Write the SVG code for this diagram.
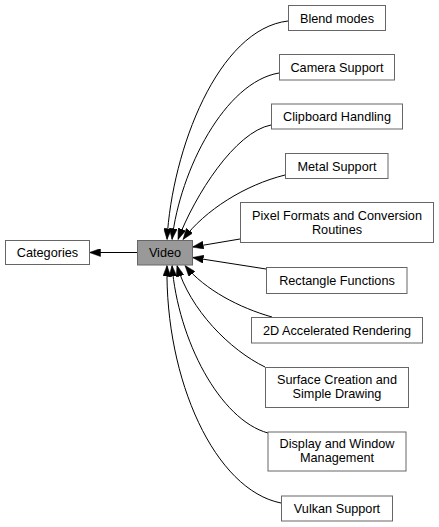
<svg xmlns="http://www.w3.org/2000/svg" width="439" height="527" viewBox="0 0 439 527">
<style>
.box{fill:#ffffff;stroke:#666666;stroke-width:1}
.cur{fill:#999999;stroke:#666666;stroke-width:1}
text{font-family:"Liberation Sans",Arial,Helvetica,sans-serif;font-size:12.7px;fill:#000000;text-anchor:middle}
.edge{fill:none;stroke:#000000;stroke-width:1;marker-end:url(#ah)}
</style>
<defs>
<marker id="ah" viewBox="0 0 11 8" refX="11" refY="4" markerWidth="11" markerHeight="8" markerUnits="userSpaceOnUse" orient="auto">
<path d="M0,0 L11,4 L0,8 z" fill="#000000" stroke="#000000" stroke-width="0.5"/>
</marker>
</defs>
<g id="edges">
<path class="edge" d="M137,252.5 L89.5,252.5"/>
<path class="edge" d="M288,21 C218,29 172,150 167,239.5"/>
<path class="edge" d="M279,73 C225,82 180,170 172,239.5"/>
<path class="edge" d="M271,125 C235,132 195,195 178,239.5"/>
<path class="edge" d="M285,175 C245,185 205,210 183,239.5"/>
<path class="edge" d="M240,239 L192.5,247"/>
<path class="edge" d="M266,269 L192.5,257.5"/>
<path class="edge" d="M272,317 C240,308 205,290 185,265.5"/>
<path class="edge" d="M265,367 C230,350 190,310 177,265.5"/>
<path class="edge" d="M268,433 C220,420 178,340 172,265.5"/>
<path class="edge" d="M281,503 C215,490 165,380 167,265.5"/>
</g>
<g id="categories"><rect class="box" x="5.5" y="240.5" width="84" height="24"/><text x="47.5" y="257">Categories</text></g>
<g id="video"><rect class="cur" x="137.5" y="240.5" width="55" height="24.5"/><text x="165" y="257">Video</text></g>
<g id="blend"><rect class="box" x="288.5" y="5.5" width="97" height="25"/><text x="337" y="22.5">Blend modes</text></g>
<g id="camera"><rect class="box" x="279.5" y="54.5" width="115" height="25.5"/><text x="337" y="71.5">Camera Support</text></g>
<g id="clipboard"><rect class="box" x="271.5" y="104" width="131" height="25"/><text x="337" y="121">Clipboard Handling</text></g>
<g id="metal"><rect class="box" x="285.5" y="153.5" width="102.5" height="25"/><text x="337" y="170.5">Metal Support</text></g>
<g id="pixel"><rect class="box" x="240.5" y="202.5" width="193" height="40"/><text x="337" y="219.5">Pixel Formats and Conversion</text><text x="337" y="233.5">Routines</text></g>
<g id="rect"><rect class="box" x="266.5" y="267.5" width="140.5" height="26"/><text x="337" y="284.5">Rectangle Functions</text></g>
<g id="render2d"><rect class="box" x="251.5" y="317.5" width="171" height="25.5"/><text x="337" y="334.5">2D Accelerated Rendering</text></g>
<g id="surface"><rect class="box" x="265.5" y="367.5" width="143" height="40"/><text x="337" y="384">Surface Creation and</text><text x="337" y="398">Simple Drawing</text></g>
<g id="display"><rect class="box" x="268" y="432" width="138" height="39"/><text x="337" y="448">Display and Window</text><text x="337" y="462">Management</text></g>
<g id="vulkan"><rect class="box" x="281.5" y="496" width="111" height="25"/><text x="337" y="513">Vulkan Support</text></g>
</svg>
